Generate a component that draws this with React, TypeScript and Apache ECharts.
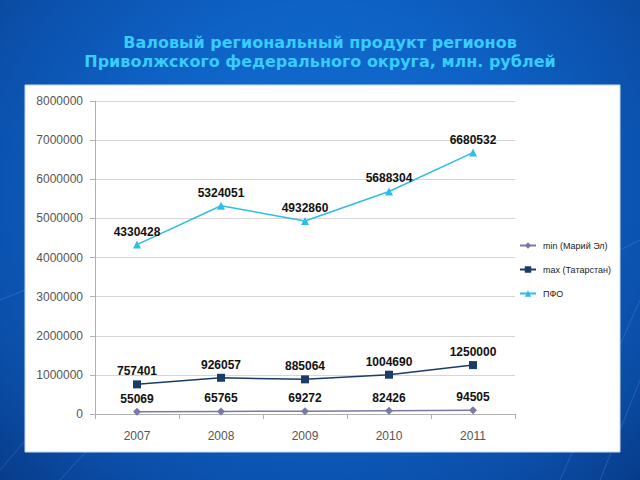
import React, { useEffect, useRef } from "react";
import * as echarts from "echarts";

const years = ["2007", "2008", "2009", "2010", "2011"];
const minMariEl = [55069, 65765, 69272, 82426, 94505];
const maxTatarstan = [757401, 926057, 885064, 1004690, 1250000];
const pfo = [4330428, 5324051, 4932860, 5688304, 6680532];
const seriesNames = ["min (Марий Эл)", "max (Татарстан)", "ПФО"];
const titleLines = [
  "Валовый региональный продукт регионов",
  "Приволжского федерального округа, млн. рублей",
];

export default function App() {
  const ref = useRef<HTMLDivElement>(null);
  useEffect(() => {
    document.body.style.margin = "0";
    const chart = echarts.init(ref.current!, undefined, { renderer: "svg" });
    const labelStyle = {
      show: true,
      position: "top" as const,
      distance: 3,
      color: "#111",
      fontWeight: "bold" as const,
      fontSize: 12,
      fontFamily: "Liberation Sans",
    };
    const bgLines: any[] = [];
    const lineDefs = [
      [0, 470, 120, 330],
      [60, 480, 170, 360],
      [600, 480, 640, 380],
      [560, 480, 640, 300],
      [0, 300, 25, 290],
      [620, 250, 640, 240],
    ];
    lineDefs.forEach(([x1, y1, x2, y2]) =>
      bgLines.push({
        type: "line",
        shape: { x1, y1, x2, y2 },
        style: { stroke: "rgba(120,170,240,0.25)", lineWidth: 1 },
        z: 0,
      })
    );
    chart.setOption({
      animation: false,
      graphic: [
        ...bgLines,
        {
          type: "rect",
          shape: { x: 25, y: 85, width: 595, height: 367 },
          style: { fill: "#ffffff", stroke: "#c8d8f0", lineWidth: 1 },
          z: 0,
        },
        {
          type: "text",
          x: 320,
          y: 33,
          style: {
            text: titleLines.join("\n"),
            align: "center",
            fill: "#38ccff",
            fontSize: 16,
            fontWeight: "bold",
            fontFamily: "DejaVu Sans",
            lineHeight: 19,
          },
          z: 1,
        },
      ],
      legend: {
        orient: "vertical",
        left: 514,
        top: 236,
        itemGap: 15,
        itemWidth: 16,
        itemHeight: 8,
        data: seriesNames,
        textStyle: { fontSize: 9, color: "#222", fontFamily: "Liberation Sans", padding: [0, 0, 0, 2] },
      },
      grid: { left: 95, right: 125, top: 101, bottom: 66 },
      xAxis: {
        type: "category",
        data: years,
        boundaryGap: true,
        axisLine: { lineStyle: { color: "#b0b0b0" } },
        axisTick: { show: true, alignWithLabel: false, length: 5, lineStyle: { color: "#b0b0b0" } },
        axisLabel: { color: "#555", fontSize: 12, margin: 16, fontFamily: "Liberation Sans" },
      },
      yAxis: {
        type: "value",
        min: 0,
        max: 8000000,
        interval: 1000000,
        axisLine: { show: true, lineStyle: { color: "#b0b0b0" } },
        axisTick: { show: true, length: 5, lineStyle: { color: "#b0b0b0" } },
        axisLabel: {
          color: "#555",
          fontSize: 12,
          margin: 12,
          fontFamily: "Liberation Sans",
          formatter: (v: number) => String(v),
        },
        splitLine: { lineStyle: { color: "#d6d6d6" } },
      },
      series: [
        {
          name: seriesNames[0],
          type: "line",
          data: minMariEl,
          symbol: "diamond",
          symbolSize: 8,
          itemStyle: { color: "#7b78a8" },
          lineStyle: { color: "#7b78a8", width: 1.5 },
          label: labelStyle,
        },
        {
          name: seriesNames[1],
          type: "line",
          data: maxTatarstan,
          symbol: "rect",
          symbolSize: 8,
          itemStyle: { color: "#1b3c66" },
          lineStyle: { color: "#1b3c66", width: 1.5 },
          label: labelStyle,
        },
        {
          name: seriesNames[2],
          type: "line",
          data: pfo,
          symbol: "triangle",
          symbolSize: 8,
          itemStyle: { color: "#2ebde8" },
          lineStyle: { color: "#2ebde8", width: 1.5 },
          label: labelStyle,
        },
      ],
    });
    return () => chart.dispose();
  }, []);
  return (
    <div
      ref={ref}
      style={{
        position: "absolute",
        left: 0,
        top: 0,
        width: 640,
        height: 480,
        background:
          "radial-gradient(ellipse at 50% 40%, #1470d2 0%, #0e62c6 45%, #0b4ea8 80%, #083c8a 100%)",
      }}
    />
  );
}
